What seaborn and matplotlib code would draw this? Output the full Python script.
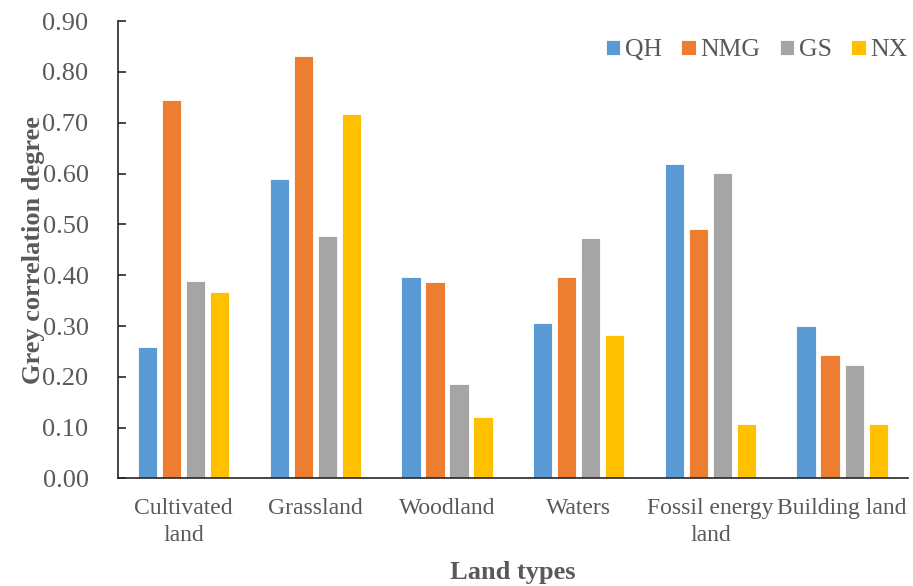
import pandas as pd
import numpy as np
import seaborn as sns
import matplotlib.pyplot as plt
from matplotlib.ticker import FixedLocator

land_types = ['Cultivated\nland', 'Grassland', 'Woodland', 'Waters', 'Fossil energy\nland', 'Building land']
regions = ['QH', 'NMG', 'GS', 'NX']
qh = [0.259, 0.589, 0.397, 0.306, 0.618, 0.301]
nmg = [0.744, 0.831, 0.386, 0.396, 0.491, 0.243]
gs = [0.389, 0.478, 0.186, 0.473, 0.602, 0.224]
nx = [0.366, 0.717, 0.121, 0.283, 0.107, 0.107]
colors = ['#5B9BD5', '#ED7D31', '#A5A5A5', '#FFC000']

df = pd.DataFrame({
    'Land types': land_types * 4,
    'Region': np.repeat(regions, len(land_types)),
    'Value': qh + nmg + gs + nx,
})

sns.set_style('white')
plt.rcParams['font.family'] = ['Liberation Serif', 'DejaVu Serif']
grey = '#595959'

fig, ax = plt.subplots(figsize=(9.13, 5.86), dpi=100)
fig.subplots_adjust(left=0.129, right=0.9945, bottom=0.1835, top=0.964)

sns.barplot(data=df, x='Land types', y='Value', hue='Region', hue_order=regions,
            order=land_types, palette=colors, saturation=1, width=0.73, gap=0.2,
            edgecolor='white', linewidth=0.6, ax=ax)

ax.set_xlim(-0.5, 5.5)
ax.set_ylim(0, 0.9)
ax.set_yticks(np.arange(0, 0.91, 0.1))
ax.set_yticklabels([f'{v:.2f}' for v in np.arange(0, 0.91, 0.1)])

# Excel style: category ticks sit between the groups
ax.xaxis.set_minor_locator(FixedLocator(np.arange(-0.5, 6, 1)))
ax.tick_params(axis='x', which='major', length=0, pad=14, labelsize=17, labelcolor=grey)
ax.tick_params(axis='x', which='minor', direction='in', length=5, width=1.2, color='#262626')
ax.tick_params(axis='y', direction='in', length=6, width=1.2, color='#262626',
               pad=21, labelsize=19, labelcolor=grey, left=True)
for t in ax.get_xticklabels():
    t.set_linespacing(1.35)

for s in ['top', 'right']:
    ax.spines[s].set_visible(False)
for s in ['left', 'bottom']:
    ax.spines[s].set_color('#262626')
    ax.spines[s].set_linewidth(1.2)

ax.set_xlabel('Land types', fontsize=19, fontweight='bold', color=grey, labelpad=11)
ax.set_ylabel('Grey correlation degree', fontsize=19, fontweight='bold', color=grey, labelpad=-2)

handles, labels = ax.get_legend_handles_labels()
ax.legend(handles, labels, loc='upper right', bbox_to_anchor=(1.0, 0.96), ncol=4,
          borderaxespad=0, borderpad=0, frameon=False, fontsize=18.5, labelcolor=grey,
          handlelength=0.55, handleheight=0.55, handletextpad=0.2, columnspacing=0.75)

fig.savefig('out.png', dpi=100)
